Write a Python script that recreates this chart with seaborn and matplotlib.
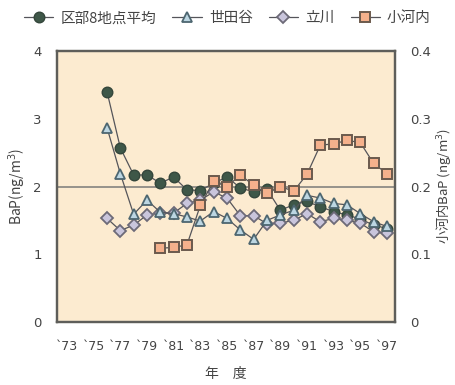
import matplotlib
matplotlib.use("Agg")
import matplotlib.pyplot as plt
from matplotlib.lines import Line2D
import seaborn as sns

# Fiscal years and BaP concentrations (ng/m3)
years = list(range(1976, 1998))
ku_avg = [3.40, 2.57, 2.17, 2.17, 2.05, 2.14, 1.95, 1.94, 2.05, 2.14, 1.98,
          1.92, 1.96, 1.65, 1.73, 1.78, 1.70, 1.63, 1.58, 1.52, 1.43, 1.38]
setagaya = [2.87, 2.19, 1.59, 1.80, 1.62, 1.60, 1.55, 1.49, 1.63, 1.53, 1.36,
            1.22, 1.50, 1.58, 1.65, 1.87, 1.83, 1.75, 1.73, 1.60, 1.48, 1.41]
tachikawa = [1.53, 1.35, 1.43, 1.58, 1.61, 1.61, 1.75, 1.80, 1.92, 1.83, 1.57,
             1.57, 1.45, 1.46, 1.50, 1.60, 1.48, 1.53, 1.50, 1.46, 1.33, 1.31]
ogouchi_years = list(range(1980, 1998))
ogouchi = [0.109, 0.110, 0.114, 0.172, 0.208, 0.200, 0.217, 0.202, 0.190,
           0.200, 0.193, 0.218, 0.261, 0.263, 0.268, 0.265, 0.234, 0.219]

series_names = ["区部8地点平均", "世田谷", "立川", "小河内"]
xtick_years = list(range(1973, 1998, 2))
xtick_labels = ["`%02d" % (y % 100) for y in xtick_years]
left_ticks = [0, 1, 2, 3, 4]
right_ticks = [0, 0.1, 0.2, 0.3, 0.4]
right_tick_labels = ["0", "0.1", "0.2", "0.3", "0.4"]

sns.set_theme(style="white")
plt.rcParams["font.family"] = ["Noto Sans CJK JP", "DejaVu Sans"]

fig = plt.figure(figsize=(4.55, 3.85), dpi=100)
ax = fig.add_axes([0.1253, 0.1636, 0.7427, 0.7039])
ax.set_facecolor("#fcebd0")
ax2 = ax.twinx()
ax2.patch.set_visible(False)

line_c = "#55555a"
styles = {
    "ku": dict(marker="o", markersize=7.6, markerfacecolor="#3e5748",
               markeredgecolor="#34463b", markeredgewidth=1.0),
    "se": dict(marker="^", markersize=7.0, markerfacecolor="#bcd6e2",
               markeredgecolor="#4d6670", markeredgewidth=1.3),
    "ta": dict(marker="D", markersize=6.2, markerfacecolor="#c9c5dc",
               markeredgecolor="#6d6a78", markeredgewidth=1.3),
    "og": dict(marker="s", markersize=7.0, markerfacecolor="#f5b18c",
               markeredgecolor="#6b5a4d", markeredgewidth=1.4),
}

ax.axhline(2, color="#7a7a78", lw=1.1, zorder=1)
sns.lineplot(x=years, y=ku_avg, ax=ax, color=line_c, lw=0.9, zorder=2, **styles["ku"])
sns.lineplot(x=years, y=tachikawa, ax=ax, color=line_c, lw=0.9, zorder=3, **styles["ta"])
sns.lineplot(x=years, y=setagaya, ax=ax, color=line_c, lw=0.9, zorder=4, **styles["se"])
sns.lineplot(x=ogouchi_years, y=ogouchi, ax=ax2, color=line_c, lw=0.9, zorder=3, **styles["og"])

ax.set_xlim(1972.25, 1997.6)
ax.set_ylim(0, 4)
ax2.set_ylim(0, 0.4)

tick_c = "#444444"
ax.set_xticks(xtick_years)
ax.set_xticklabels(xtick_labels, fontsize=9, color=tick_c, family=["DejaVu Sans"])
ax.set_yticks(left_ticks)
ax.set_yticklabels([str(t) for t in left_ticks], fontsize=9.5, color=tick_c, family=["DejaVu Sans"])
ax2.set_yticks(right_ticks)
ax2.set_yticklabels(right_tick_labels, fontsize=9.5, color=tick_c, family=["DejaVu Sans"])
ax.tick_params(axis="x", length=0, pad=13)
ax.tick_params(axis="y", length=0, pad=11)
ax2.tick_params(axis="y", length=0, pad=11)

ax.set_ylabel("BaP(ng/m$^3$)", fontsize=10, color=tick_c, labelpad=4)
ax2.set_ylabel("小河内BaP (ng/m$^3$)", fontsize=9.5, color=tick_c, labelpad=2)
ax.set_xlabel("年　度", fontsize=10, color=tick_c, labelpad=10)

for a in (ax, ax2):
    for s in a.spines.values():
        s.set_color("#5e5e5a")
        s.set_linewidth(1.6)

handles = [Line2D([], [], color=line_c, lw=0.9, **styles[k]) for k in ("ku", "se", "ta", "og")]
fig.legend(handles, series_names, loc="upper center", bbox_to_anchor=(0.5, 1.005),
           ncol=4, frameon=False, fontsize=10.5, handlelength=2.0, handletextpad=0.5,
           columnspacing=1.1, labelcolor=tick_c)

fig.savefig("out.png", dpi=100, facecolor="white")
